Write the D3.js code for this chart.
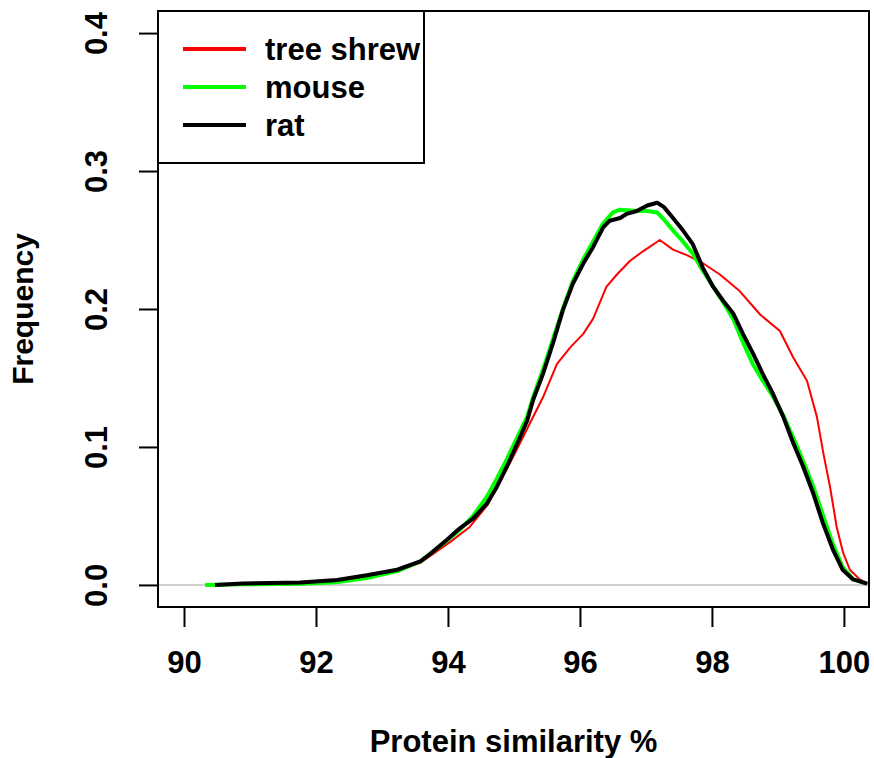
<!DOCTYPE html>
<html>
<head>
<meta charset="utf-8">
<script src="https://cdn.jsdelivr.net/npm/d3@7"></script>
<style>
  html, body { margin: 0; padding: 0; background: #fff; }
  text { font-family: "Liberation Sans", Arial, sans-serif; font-weight: bold; fill: #000; }
</style>
</head>
<body>
<svg id="chart" width="874" height="758"></svg>
<script>
// density curves: [similarity %, frequency]
const treeShrew = [
  [91.5, 0.000], [92.3, 0.003], [92.77, 0.006], [93.23, 0.010], [93.58, 0.016],
  [94.03, 0.031], [94.33, 0.042], [94.6, 0.058], [94.99, 0.093], [95.24, 0.117],
  [95.44, 0.136], [95.65, 0.160], [95.85, 0.172], [96.05, 0.182], [96.2, 0.193],
  [96.4, 0.216], [96.56, 0.225], [96.76, 0.235], [96.96, 0.242], [97.21, 0.250],
  [97.41, 0.243], [97.62, 0.239], [97.87, 0.233], [98.12, 0.225], [98.42, 0.213],
  [98.73, 0.196], [99.03, 0.184], [99.23, 0.165], [99.44, 0.148], [99.59, 0.122],
  [99.69, 0.095], [99.79, 0.071], [99.89, 0.042], [99.99, 0.023], [100.09, 0.011],
  [100.24, 0.004], [100.36, 0.001]
];
const mouse = [
  [90.32, 0.000], [90.9, 0.0005], [91.8, 0.0008], [92.3, 0.002], [92.77, 0.005],
  [93.23, 0.010], [93.58, 0.017], [93.98, 0.032], [94.18, 0.040], [94.38, 0.050],
  [94.59, 0.064], [94.74, 0.077], [94.89, 0.091], [95.05, 0.107], [95.2, 0.122],
  [95.29, 0.136], [95.44, 0.156], [95.59, 0.178], [95.74, 0.200], [95.89, 0.220],
  [96.05, 0.236], [96.2, 0.249], [96.35, 0.262], [96.5, 0.270], [96.61, 0.272],
  [96.86, 0.271], [97.02, 0.271], [97.17, 0.270], [97.27, 0.265], [97.41, 0.257],
  [97.56, 0.249], [97.71, 0.240], [97.86, 0.228], [98.02, 0.216], [98.17, 0.205],
  [98.32, 0.193], [98.47, 0.176], [98.62, 0.160], [98.77, 0.148], [98.92, 0.137],
  [99.08, 0.123], [99.23, 0.107], [99.38, 0.090], [99.53, 0.072], [99.68, 0.051],
  [99.83, 0.030], [99.98, 0.013], [100.14, 0.004], [100.35, 0.001]
];
const rat = [
  [90.47, 0.000], [90.89, 0.001], [91.76, 0.0017], [92.32, 0.0036], [92.77, 0.007],
  [93.23, 0.011], [93.58, 0.017], [93.77, 0.024], [93.98, 0.0325], [94.18, 0.041],
  [94.38, 0.048], [94.59, 0.059], [94.74, 0.071], [94.89, 0.0855], [95.05, 0.1025],
  [95.2, 0.119], [95.29, 0.134], [95.44, 0.153], [95.59, 0.175], [95.74, 0.199],
  [95.89, 0.218], [96.05, 0.233], [96.2, 0.245], [96.35, 0.259], [96.45, 0.264],
  [96.61, 0.266], [96.71, 0.269], [96.86, 0.271], [97.02, 0.275], [97.17, 0.277],
  [97.27, 0.274], [97.41, 0.266], [97.56, 0.257], [97.71, 0.247], [97.86, 0.230],
  [98.02, 0.216], [98.17, 0.206], [98.32, 0.197], [98.47, 0.182], [98.62, 0.168],
  [98.77, 0.153], [98.92, 0.139], [99.08, 0.122], [99.23, 0.103], [99.38, 0.086],
  [99.53, 0.067], [99.68, 0.045], [99.83, 0.026], [99.98, 0.011], [100.14, 0.004],
  [100.35, 0.001]
];

const seriesNames = ["tree shrew", "mouse", "rat"];
const seriesColors = ["#ff0000", "#00ff00", "#000000"];
const seriesWidths = [2, 4, 4];
const xTicks = [90, 92, 94, 96, 98, 100];
const yTicks = [0.0, 0.1, 0.2, 0.3, 0.4];

const svg = d3.select("#chart");
const box = { left: 158, top: 11, right: 869, bottom: 607 };

const x = d3.scaleLinear().domain([89.606, 100.38]).range([box.left, box.right]);
const y = d3.scaleLinear().domain([-0.016, 0.416]).range([box.bottom, box.top]);

// zero reference line
svg.append("line")
  .attr("x1", box.left).attr("x2", box.right)
  .attr("y1", y(0)).attr("y2", y(0))
  .attr("stroke", "#bebebe").attr("stroke-width", 1.5);

// curves, drawn red first so black sits on top
const line = d3.line()
  .x(d => x(d[0]))
  .y(d => y(d[1]));

[treeShrew, mouse, rat].forEach((data, i) => {
  svg.append("path")
    .datum(data)
    .attr("d", line)
    .attr("fill", "none")
    .attr("stroke", seriesColors[i])
    .attr("stroke-width", seriesWidths[i])
    .attr("stroke-linejoin", "round");
});

// plot frame
svg.append("rect")
  .attr("x", box.left).attr("y", box.top)
  .attr("width", box.right - box.left).attr("height", box.bottom - box.top)
  .attr("fill", "none").attr("stroke", "#000").attr("stroke-width", 2);

// x axis
const xAxis = svg.append("g")
  .attr("transform", "translate(0," + box.bottom + ")")
  .call(d3.axisBottom(x).tickValues(xTicks).tickSize(20).tickPadding(24).tickFormat(d3.format("d")));
xAxis.select(".domain").remove();
xAxis.selectAll(".tick line").attr("stroke-width", 2);
xAxis.selectAll(".tick text")
  .attr("font-size", 31).attr("font-family", null).attr("fill", "#000");

// y axis, labels rotated like R's default las = 0
const yAxis = svg.append("g")
  .attr("transform", "translate(" + box.left + ",0)")
  .call(d3.axisLeft(y).tickValues(yTicks).tickSize(19).tickFormat(d3.format(".1f")));
yAxis.select(".domain").remove();
yAxis.selectAll(".tick line").attr("stroke-width", 2);
yAxis.selectAll(".tick text")
  .attr("x", null).attr("dy", null)
  .attr("text-anchor", "middle")
  .attr("transform", "translate(-51,0) rotate(-90)")
  .attr("font-size", 31).attr("font-family", null).attr("fill", "#000");

// axis titles
svg.append("text")
  .attr("x", (box.left + box.right) / 2).attr("y", 752)
  .attr("text-anchor", "middle")
  .attr("font-size", 31)
  .text("Protein similarity %");

svg.append("text")
  .attr("transform", "translate(33," + (box.top + box.bottom) / 2 + ") rotate(-90)")
  .attr("text-anchor", "middle")
  .attr("font-size", 30)
  .text("Frequency");

// legend
const legend = svg.append("g");
legend.append("rect")
  .attr("x", box.left).attr("y", box.top)
  .attr("width", 266).attr("height", 152)
  .attr("fill", "#fff").attr("stroke", "#000").attr("stroke-width", 2);

seriesNames.forEach((name, i) => {
  const ly = 49 + i * 38;
  legend.append("line")
    .attr("x1", 183).attr("x2", 246)
    .attr("y1", ly).attr("y2", ly)
    .attr("stroke", seriesColors[i]).attr("stroke-width", 4);
  legend.append("text")
    .attr("x", 265).attr("y", ly)
    .attr("dy", "0.35em")
    .attr("font-size", 31)
    .text(name);
});
</script>
</body>
</html>
